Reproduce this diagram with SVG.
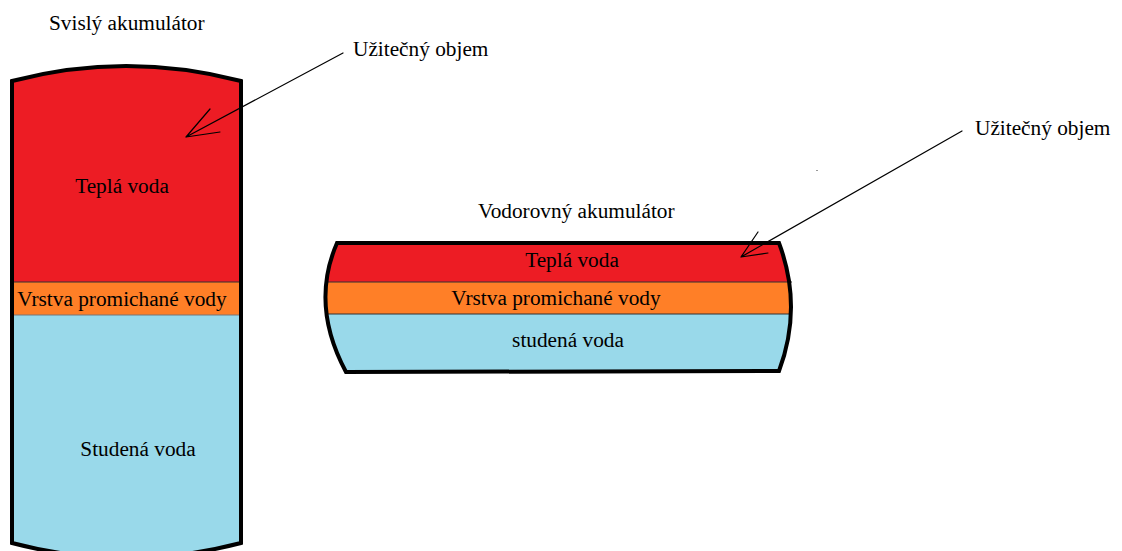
<svg xmlns="http://www.w3.org/2000/svg" width="1122" height="551" viewBox="0 0 1122 551">
<style>
text{font-family:"Liberation Serif","Times New Roman",serif;font-size:21.3px;fill:#000}
.c{text-anchor:middle}
.red{fill:#ED1C24}.org{fill:#FF7F27}.blu{fill:#99D9EA}
.out{fill:none;stroke:#000;stroke-width:4;stroke-linejoin:miter}
.ln{fill:none;stroke:#000;stroke-width:1.2;stroke-linecap:round}
</style>
<defs>
<clipPath id="cv"><path d="M12,81 Q126,51 241,81 L241,543 Q126,573 12,543 Z"/></clipPath>
<clipPath id="ch"><path d="M337,243 L779,243 Q803,307 779,371 L346,372 Q310,305 337,243 Z"/></clipPath>
</defs>
<rect width="1122" height="551" fill="#fff"/>
<g id="vertical-tank">
<g clip-path="url(#cv)">
<rect class="red" x="0" y="40" width="260" height="242"/>
<rect class="org" x="0" y="282" width="260" height="33"/>
<rect class="blu" x="0" y="315" width="260" height="260"/>
</g>
<line x1="12" y1="282" x2="241" y2="282" stroke="#333" stroke-width="1"/>
<line x1="12" y1="315" x2="241" y2="315" stroke="#777" stroke-width="1"/>
<path class="out" d="M12,81 Q126,51 241,81 L241,543 Q126,573 12,543 Z"/>
<text x="49" y="30">Svislý akumulátor</text>
<text class="c" x="122" y="193">Teplá voda</text>
<text class="c" x="122" y="306">Vrstva promichané vody</text>
<text class="c" x="138" y="456">Studená voda</text>
</g>
<g id="horizontal-tank">
<g clip-path="url(#ch)">
<rect class="red" x="300" y="230" width="520" height="52"/>
<rect class="org" x="300" y="282" width="520" height="32"/>
<rect class="blu" x="300" y="314" width="520" height="70"/>
</g>
<line x1="326" y1="282" x2="792" y2="282" stroke="#333" stroke-width="1"/>
<line x1="326" y1="314" x2="792" y2="314" stroke="#333" stroke-width="1"/>
<path class="out" d="M337,243 L779,243 Q803,307 779,371 L346,372 Q310,305 337,243 Z"/>
<text x="478" y="218">Vodorovný akumulátor</text>
<text class="c" x="572" y="267">Teplá voda</text>
<text class="c" x="556" y="305">Vrstva promichané vody</text>
<text class="c" x="568" y="347">studená voda</text>
</g>
<g id="label-1"><text x="353" y="56">Užitečný objem</text></g>
<g id="label-2"><text x="975" y="135">Užitečný objem</text></g>
<g id="connectors">
<path class="ln" d="M343,53 L186,137 M186,137 L210,109 M186,137 L220,132"/>
<path class="ln" d="M962,131 L741,257 M741,257 L758,232 M741,257 L768,253"/>
</g>
<rect x="816" y="170" width="2" height="1" fill="#999"/>
</svg>
